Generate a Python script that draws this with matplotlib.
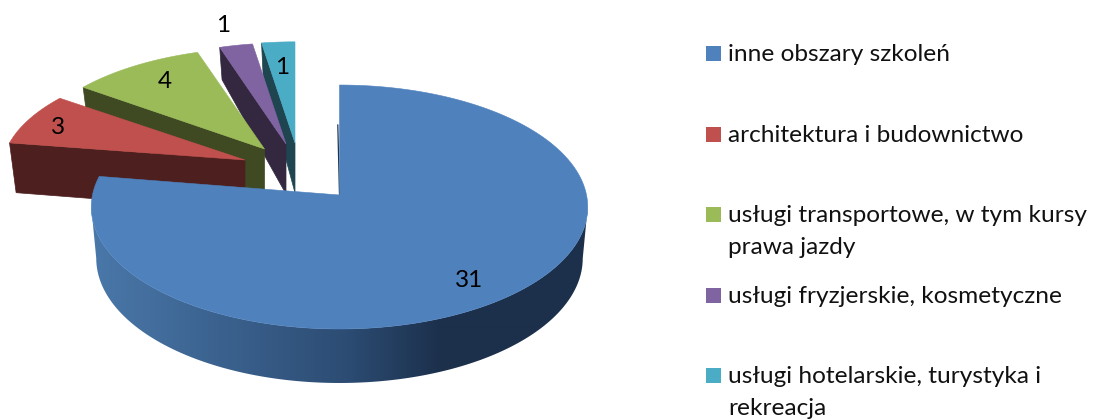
import numpy as np
import matplotlib
matplotlib.use("Agg")
import matplotlib.pyplot as plt
from matplotlib.patches import Polygon, Rectangle

categories = ["inne obszary szkoleń", "architektura i budownictwo",
              "usługi transportowe, w tym kursy\nprawa jazdy",
              "usługi fryzjerskie, kosmetyczne",
              "usługi hotelarskie, turystyka i\nrekreacja"]
values = [31, 3, 4, 1, 1]
top_colors = ["#4f81bd", "#c0504d", "#9bbb59", "#8064a2", "#4bacc6"]
side_colors = ["#1e3550", "#4d1f1e", "#3f4a22", "#332840", "#1e4550"]

# exploded slice layout (pixel apex, radial scale) and label placement
apex_x = [339.5, 245, 264.5, 286, 295]
apex_y = [195, 160, 149, 144, 143]
scale_x = [1.0, 0.98, 0.96, 0.95, 0.95]
scale_y = [1.0, 0.92, 0.92, 0.92, 0.92]
label_r = [0.80, 0.87, 0.78, 1.25, 0.74]
label_dx = [-7, 1, 3, -2, 0]
label_dy = [7, 3, -1, 2, 1]

K, RX, RY = 0.0984, 247.0, 120.8
W, H = 1094, 419

plt.rcParams['font.family'] = ['Lato', 'DejaVu Sans']
fig = plt.figure(figsize=(W / 100, H / 100), dpi=100)
ax = fig.add_axes([0, 0, 1, 1])


def project(i, r, theta):
    """theta in radians clockwise from 12 o'clock, on the tilted disc."""
    u, v = r * np.sin(theta), r * np.cos(theta)
    w = 1 + K * v
    return apex_x[i] + scale_x[i] * RX * u / w, apex_y[i] - scale_y[i] * RY * v / w


def drop(x, y):
    d = np.interp(y, [45, 144, 329], [32, 50, 54])
    return x + (339 - x) * 0.02, y + d


fractions = np.array(values) / sum(values)
edges = np.concatenate([[0], np.cumsum(fractions)]) * 2 * np.pi

# back slices first, the big slice last
for i in [4, 3, 2, 1]:
    t0, t1 = edges[i], edges[i + 1]
    x0, y0 = project(i, 1, t0)
    px, py = apex_x[i], apex_y[i]
    bx0, by0 = drop(x0, y0)
    _, bpy = drop(px, py)
    ax.add_patch(Polygon([(x0, y0), (px, py), (px, bpy), (bx0, by0)],
                         closed=True, fc=side_colors[i], ec=side_colors[i], lw=0.5, zorder=2 + (4 - i) * 2))
    th = np.linspace(t0, t1, 60)
    x, y = project(i, 1, th)
    pts = np.column_stack([np.r_[px, x], np.r_[py, y]])
    ax.add_patch(Polygon(pts, closed=True, fc=top_colors[i], ec=top_colors[i], lw=0.4, zorder=3 + (4 - i) * 2))

# big slice: rim with horizontal shading, then top
t0, t1 = edges[0], edges[1]
th = np.linspace(t0, t1, 800)
x, y = project(0, 1, th)
bx, by = drop(x, y)
front = np.arange(np.argmax(x), np.argmin(x) + 1)
rim = Polygon(np.column_stack([np.r_[x[front], bx[front][::-1]], np.r_[y[front], by[front][::-1]]]),
              closed=True, fc="none", ec="none")
ax.add_patch(rim)
grad_x = np.arange(85, 596)
light = np.array([74, 120, 170]) / 255
mid = np.array([44, 76, 115]) / 255
dark = np.array([28, 48, 76]) / 255
grad = np.stack([np.interp(grad_x, [91, 347, 440], [light[c], mid[c], dark[c]]) for c in range(3)], axis=-1)[None, :, :]
im = ax.imshow(grad, extent=(85, 596, 400, 150), aspect="auto", interpolation="bilinear", zorder=20)
im.set_clip_path(rim)
ax.plot([337.8, 339.5], [125, 195], color="#1e3550", lw=0.9, zorder=20)
pts = np.column_stack([np.r_[apex_x[0], x], np.r_[apex_y[0], y]])
ax.add_patch(Polygon(pts, closed=True, fc=top_colors[0], ec=top_colors[0], lw=0.4, zorder=21))

# value labels
mids = (edges[:-1] + edges[1:]) / 2
for i, val in enumerate(values):
    lx, ly = project(i, label_r[i], mids[i])
    ax.text(lx + label_dx[i], ly + label_dy[i], str(val), ha="center", va="center",
            fontsize=17.6, color="black", zorder=30)

# legend
for i, name in enumerate(categories):
    top = 46 + i * 80.5
    ax.add_patch(Rectangle((706, top), 15, 15, fc=top_colors[i], ec="none", zorder=5))
    ax.text(728, top - 2, name, ha="left", va="top", fontsize=17.6, linespacing=1.62, color="#111111")

ax.set_xlim(0, W)
ax.set_ylim(H, 0)
ax.set_aspect("auto")
ax.axis("off")
fig.savefig("out.png", dpi=100)
